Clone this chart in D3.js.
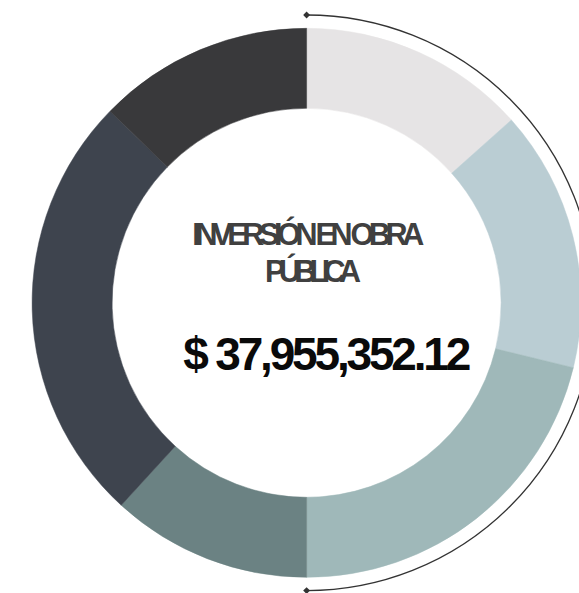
<!DOCTYPE html>
<html>
<head>
<meta charset="utf-8">
<script src="https://cdn.jsdelivr.net/npm/d3@7"></script>
<style>
  html, body { margin: 0; padding: 0; background: #ffffff; }
  svg { display: block; }
</style>
</head>
<body>
<svg id="chart" width="579" height="593"></svg>
<script>
// ---- data ----
const categories = ["Segmento 1", "Segmento 2", "Segmento 3", "Segmento 4", "Segmento 5", "Segmento 6"];
const values = [13.4, 15.4, 21.2, 11.8, 25.5, 12.7];
const colors = ["#e6e4e5", "#bacdd3", "#9fb8b9", "#6b8283", "#3e444e", "#39393b"];
const titleLines = ["INVERSIÓN EN OBRA", "PÚBLICA"];
const totalLabel = "$ 37,955,352.12";

// ---- layout ----
const svg = d3.select("#chart");
const cx = 306.6, cy = 302.8;
const outerR = 274.5, innerR = 194.5, bracketR = 287.8;

const g = svg.append("g").attr("transform", `translate(${cx},${cy})`);

const data = categories.map((c, i) => ({ name: c, value: values[i], color: colors[i] }));
const pie = d3.pie().value(d => d.value).sort(null).startAngle(0).endAngle(2 * Math.PI);
const arc = d3.arc().innerRadius(innerR).outerRadius(outerR);

g.selectAll("path.slice")
  .data(pie(data))
  .join("path")
  .attr("class", "slice")
  .attr("d", arc)
  .attr("fill", d => d.data.color)
  .attr("stroke", d => d.data.color)
  .attr("stroke-width", 0.5);

// bracket arc on the right side
const bracket = d3.arc().innerRadius(bracketR).outerRadius(bracketR)
  .startAngle(0).endAngle(Math.PI);
g.append("path")
  .attr("d", bracket())
  .attr("fill", "none")
  .attr("stroke", "#333333")
  .attr("stroke-width", 1.3);

// diamond markers at the bracket ends
const diamond = d3.symbol().type(d3.symbolDiamond2).size(30);
[0, Math.PI].forEach(a => {
  g.append("path")
    .attr("d", diamond())
    .attr("transform", `translate(${bracketR * Math.sin(a)},${-bracketR * Math.cos(a)})`)
    .attr("fill", "#333333");
});

// ---- center texts ----
svg.append("text")
  .attr("x", 192.3).attr("y", 245)
  .attr("textLength", 232).attr("lengthAdjust", "spacing")
  .attr("font-family", "'Liberation Sans', Arial, sans-serif")
  .attr("font-size", 30.5)
  .attr("font-weight", "bold")
  .attr("fill", "#404040")
  .text(titleLines[0]);

svg.append("text")
  .attr("x", 265).attr("y", 281.7)
  .attr("textLength", 96).attr("lengthAdjust", "spacing")
  .attr("font-family", "'Liberation Sans', Arial, sans-serif")
  .attr("font-size", 30.5)
  .attr("font-weight", "bold")
  .attr("fill", "#404040")
  .text(titleLines[1]);

svg.append("text")
  .attr("x", 183.3).attr("y", 370)
  .attr("textLength", 288).attr("lengthAdjust", "spacing")
  .attr("font-family", "'Liberation Sans', Arial, sans-serif")
  .attr("font-size", 46)
  .attr("font-weight", "bold")
  .attr("fill", "#0a0a0a")
  .text(totalLabel);
</script>
</body>
</html>
